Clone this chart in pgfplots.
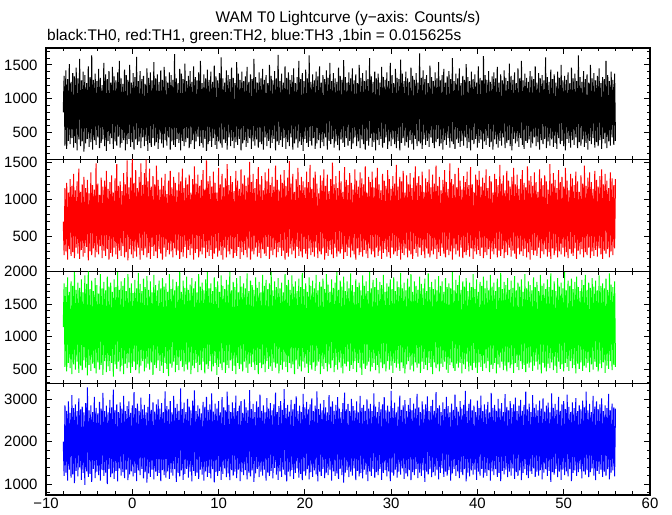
\documentclass[border=0pt]{standalone}
\usepackage{pgfplots}
\pgfplotsset{compat=1.18}
\usepackage{pgfplotstable}
\usepackage{fontspec}
\setmainfont{Liberation Sans}

\pgfplotstableread{
x b r g u
-8.0 800 700 1150 2000
-7.9 1340 250 1820 1190
-7.8 310 1150 540 2860
-7.7 1420 300 1760 1270
-7.6 260 1220 470 2730
-7.5 1290 190 1910 1080
-7.4 380 1090 600 2950
-7.3 1510 330 1690 1340
-7.2 330 1270 520 2680
-7.1 1250 240 1850 1150
-7.0 420 1180 430 3100
-6.9 1380 290 1780 1230
-6.8 280 1340 580 2790
-6.7 1330 210 1990 1020
-6.6 350 1120 500 2880
-6.5 1460 350 1720 1310
-6.4 240 1240 620 2720
-6.3 1300 270 1830 1180
-6.2 400 1410 450 3020
-6.1 1590 200 1750 1390
-6.0 300 1100 560 2760
-5.9 1270 320 1880 1100
-5.8 370 1200 490 2830
-5.7 1400 230 1680 1260
-5.6 220 1300 640 2690
-5.5 1350 280 1940 980
-5.4 340 1150 530 2910
-5.3 1230 360 1810 1300
-5.2 410 1260 410 3280
-5.1 1480 180 2000 1170
-5.0 290 1080 570 2740
-4.9 1320 300 1730 1240
-4.8 360 1360 480 2860
-4.7 1640 250 1860 1050
-4.6 250 1190 590 2700
-4.5 1280 340 1700 1360
-4.4 390 1130 520 3060
-4.3 1370 220 1900 1140
-4.2 320 1480 440 2800
-4.1 1260 290 1790 1290
-4.0 430 1210 610 2670
-3.9 1440 260 1660 1210
-3.8 270 1060 500 2940
-3.7 1310 370 1960 1080
-3.6 350 1290 570 2780
-3.5 1200 210 1740 1330
-3.4 400 1170 420 3150
-3.3 1530 310 1840 1190
-3.2 300 1250 630 2720
-3.1 1360 240 1710 1270
-3.0 230 1380 460 2850
-2.9 1290 330 1920 1000
-2.8 380 1140 550 2690
-2.7 1410 190 1770 1350
-2.6 330 1230 480 2990
-2.5 1240 280 1830 1160
-2.4 420 1320 600 2810
-2.3 1470 230 1690 1250
-2.2 260 1090 390 3230
-2.1 1330 350 1880 1120
-2.0 370 1280 580 2740
-1.9 1270 260 1760 1310
-1.8 310 1470 510 2880
-1.7 1390 200 1990 1060
-1.6 440 1180 620 2700
-1.5 1560 310 1720 1370
-1.4 280 1240 470 2930
-1.3 1300 240 1850 1200
-1.2 350 1110 560 2780
-1.1 1220 370 1780 1280
-1.0 390 1350 430 3080
-0.9 1430 220 1900 1140
-0.8 240 1200 590 2720
-0.7 1350 290 1700 1340
-0.6 330 1520 520 2840
-0.5 1280 180 1960 1090
-0.4 410 1160 610 2950
-0.3 1500 330 1750 1230
-0.2 290 1290 450 2680
-0.1 1240 260 1820 1300
0.0 360 1540 540 2860
0.1 1380 210 1670 1180
0.2 250 1220 620 3170
0.3 1320 300 1870 1260
0.4 400 1390 490 2790
0.5 1620 230 1740 1070
0.6 320 1150 580 2900
0.7 1260 350 1980 1320
0.8 370 1300 440 2730
0.9 1410 190 1810 1210
1.0 270 1480 560 3040
1.1 1290 310 1700 1360
1.2 430 1190 630 2760
1.3 1340 250 1890 1130
1.4 300 1350 470 2870
1.5 1220 340 1760 1280
1.6 380 1530 530 2690
1.7 1450 220 1930 1030
1.8 230 1240 590 2820
1.9 1310 280 1720 1250
2.0 350 1410 500 3120
2.1 1390 200 1850 1170
2.2 290 1170 610 2750
2.3 1270 360 1680 1340
2.4 420 1310 420 2930
2.5 1540 240 1950 1110
2.6 310 1200 570 2710
2.7 1300 300 1790 1290
2.8 360 1450 520 2880
2.9 1360 210 1710 1190
3.0 260 1260 640 3000
3.1 1250 330 1860 1260
3.2 400 1130 480 2780
3.3 1420 270 1740 1070
3.4 340 1290 560 2910
3.5 1280 190 1900 1330
3.6 280 1180 450 2700
3.7 1470 350 1770 1210
3.8 390 1340 600 3190
3.9 1330 230 1820 1150
4.0 310 1070 510 2840
4.1 1240 320 1690 1300
4.2 430 1250 400 2760
4.3 1390 260 1960 1120
4.4 250 1380 590 2960
4.5 1350 300 1730 1270
4.6 370 1160 530 2690
4.7 1280 220 1880 1200
4.8 320 1300 620 3080
4.9 1660 340 1710 1350
5.0 290 1220 460 2800
5.1 1300 250 1840 1050
5.2 410 1120 570 2890
5.3 1230 310 1780 1260
5.4 350 1360 490 2730
5.5 1440 200 1990 1180
5.6 240 1240 630 3260
5.7 1370 290 1690 1320
5.8 380 1410 540 2770
5.9 1290 230 1860 1100
6.0 300 1150 470 2920
6.1 1520 360 1750 1240
6.2 360 1290 580 2700
6.3 1260 210 1920 1360
6.4 420 1200 500 3010
6.5 1340 320 1720 1150
6.6 270 1330 610 2830
6.7 1410 250 1800 1290
6.8 330 1090 430 2740
6.9 1250 340 1900 1060
7.0 390 1270 560 2970
7.1 1480 190 1740 1310
7.2 260 1440 520 3210
7.3 1320 280 1850 1190
7.4 370 1210 600 2720
7.5 1270 330 1680 1270
7.6 440 1330 460 2860
7.7 1390 220 1960 1120
7.8 300 1180 570 2780
7.9 1560 300 1770 1340
8.0 350 1260 490 2670
8.1 1230 260 1830 1220
8.2 280 1390 620 2940
8.3 1360 350 1710 1080
8.4 410 1130 440 2820
8.5 1300 210 1880 1300
8.6 230 1520 580 3060
8.7 1430 290 1990 1170
8.8 330 1240 510 2750
8.9 1280 240 1740 1260
9.0 380 1310 630 2880
9.1 1400 320 1820 1130
9.2 290 1170 470 3140
9.3 1250 200 1700 1350
9.4 420 1370 550 2710
9.5 1490 270 1910 1040
9.6 320 1220 600 2900
9.7 1330 340 1760 1280
9.8 260 1090 420 2780
9.9 1270 230 1850 1190
10.0 370 1420 540 2960
10.1 1380 310 1690 1310
10.2 340 1200 590 2690
10.3 1610 250 1940 1100
10.4 280 1340 490 3050
10.5 1300 190 1780 1240
10.6 400 1160 610 2810
10.7 1240 350 1730 1370
10.8 350 1280 450 2740
10.9 1420 220 1870 1160
11.0 250 1470 570 3180
11.1 1350 300 1800 1250
11.2 430 1190 520 2870
11.3 1290 260 1990 1090
11.4 300 1310 640 2700
11.5 1460 330 1710 1330
11.6 380 1230 480 2930
11.7 1310 210 1840 1200
11.8 270 1110 560 2790
11.9 1230 280 1760 1290
12.0 360 1380 430 3090
12.1 1540 240 1900 1140
12.2 320 1250 600 2720
12.3 1370 360 1680 1340
12.4 410 1140 510 2850
12.5 1280 200 1930 1070
12.6 240 1400 580 2960
12.7 1400 290 1770 1280
12.8 340 1210 470 2680
12.9 1260 250 1820 1210
13.0 390 1320 620 3000
13.1 1330 320 1740 1330
13.2 290 1180 530 2810
13.3 1470 220 1970 1110
13.4 350 1290 450 2740
13.5 1250 340 1700 1270
13.6 420 1500 590 3220
13.7 1360 190 1860 1180
13.8 260 1230 540 2770
13.9 1290 300 1790 1320
14.0 370 1340 610 2890
14.1 1590 260 1720 1050
14.2 310 1150 490 2700
14.3 1320 350 1910 1250
14.4 400 1270 570 2950
14.5 1240 230 1750 1360
14.6 280 1430 430 2820
14.7 1390 280 1840 1160
14.8 360 1200 600 3110
14.9 1300 210 1680 1290
15.0 330 1310 520 2730
15.1 1440 330 1950 1200
15.2 250 1120 580 2860
15.3 1280 270 1780 1340
15.4 430 1360 460 2690
15.5 1350 240 1870 1080
15.6 300 1240 630 3030
15.7 1230 360 1730 1270
15.8 380 1410 510 2780
15.9 1500 200 1820 1190
16.0 270 1190 550 2910
16.1 1340 310 1990 1310
16.2 350 1300 480 2740
16.3 1270 250 1710 1130
16.4 410 1170 610 2880
16.5 1410 330 1850 1380
16.6 240 1450 530 3160
16.7 1300 220 1760 1220
16.8 370 1260 590 2700
16.9 1650 290 1900 1100
17.0 320 1130 440 2840
17.1 1260 350 1740 1300
17.2 390 1330 570 2960
17.3 1370 240 1830 1170
17.4 290 1220 500 2750
17.5 1240 310 1680 1340
17.6 420 1390 620 3240
17.7 1480 190 1960 1210
17.8 260 1180 540 2790
17.9 1310 280 1790 1060
18.0 360 1290 460 2870
18.1 1390 230 1870 1290
18.2 300 1510 600 2710
18.3 1280 340 1720 1180
18.4 430 1210 520 2990
18.5 1350 260 1940 1330
18.6 250 1340 580 2760
18.7 1450 310 1770 1120
18.8 340 1100 430 2890
18.9 1230 210 1850 1260
19.0 400 1270 640 3070
19.1 1320 360 1700 1370
19.2 280 1420 510 2730
19.3 1560 240 1890 1150
19.4 370 1190 550 2850
19.5 1290 300 1760 1240
19.6 320 1300 470 2700
19.7 1380 220 1980 1090
19.8 230 1240 620 3130
19.9 1260 330 1730 1300
20.0 410 1160 530 2810
20.1 1430 270 1820 1200
20.2 350 1370 590 2940
20.3 1300 200 1690 1350
20.4 290 1230 450 2760
20.5 1640 340 1910 1110
20.6 380 1460 570 2880
20.7 1250 250 1780 1280
20.8 310 1140 500 3020
20.9 1360 290 1860 1170
21.0 420 1290 610 2720
21.1 1270 230 1740 1320
21.2 260 1370 480 2850
21.3 1400 350 1950 1230
21.4 340 1210 560 3190
21.5 1330 210 1710 1060
21.6 390 1080 620 2770
21.7 1480 300 1840 1290
21.8 270 1320 430 2900
21.9 1240 260 1770 1190
22.0 360 1250 550 2740
22.1 1350 340 1890 1360
22.2 300 1400 510 2980
22.3 1290 190 1730 1140
22.4 430 1180 600 2810
22.5 1420 280 1960 1270
22.6 250 1330 470 2690
22.7 1310 240 1800 1210
22.8 380 1110 580 3100
22.9 1530 320 1690 1340
23.0 330 1270 520 2830
23.1 1260 260 1880 1080
23.2 410 1490 640 2950
23.3 1380 210 1750 1300
23.4 280 1200 460 2730
23.5 1300 350 1830 1190
23.6 370 1310 570 2870
23.7 1250 230 1990 1250
23.8 320 1150 500 3050
23.9 1460 300 1720 1120
24.0 240 1380 610 2780
24.1 1340 270 1860 1360
24.2 400 1240 530 2700
24.3 1280 330 1770 1210
24.4 350 1100 440 2910
24.5 1570 200 1920 1030
24.6 290 1430 590 3160
24.7 1320 290 1700 1270
24.8 420 1260 550 2760
24.9 1240 240 1850 1330
25.0 310 1190 620 2890
25.1 1390 350 1740 1160
25.2 380 1350 480 2720
25.3 1300 220 1970 1290
25.4 260 1220 570 3010
25.5 1450 310 1790 1200
25.6 340 1130 510 2840
25.7 1270 260 1690 1370
25.8 430 1400 630 2740
25.9 1360 190 1880 1090
26.0 300 1250 460 2950
26.1 1230 340 1760 1310
26.2 370 1170 600 2690
26.3 1500 250 1830 1180
26.4 270 1360 530 3080
26.5 1310 290 1710 1260
26.6 400 1280 420 2800
26.7 1380 230 1940 1130
26.8 330 1200 590 2870
26.9 1260 320 1780 1340
27.0 250 1440 510 2730
27.1 1420 270 1850 1220
27.2 380 1090 560 3000
27.3 1290 210 1700 1070
27.4 310 1300 620 2780
27.5 1600 340 1990 1300
27.6 420 1230 470 2890
27.7 1330 260 1740 1190
27.8 290 1370 540 2720
27.9 1250 300 1870 1350
28.0 360 1160 600 3140
28.1 1400 220 1760 1150
28.2 240 1290 490 2830
28.3 1300 350 1900 1280
28.4 390 1420 570 2700
28.5 1370 240 1720 1210
28.6 320 1200 440 2940
28.7 1240 310 1840 1360
28.8 410 1120 610 2760
28.9 1470 200 1790 1100
29.0 280 1340 520 2880
29.1 1320 280 1950 1260
29.2 350 1250 580 3050
29.3 1280 330 1690 1330
29.4 430 1180 470 2740
29.5 1390 230 1820 1180
29.6 260 1390 630 2850
29.7 1260 290 1770 1300
29.8 370 1270 500 2710
29.9 1530 210 1880 1070
30.0 300 1140 560 3200
30.1 1350 350 1730 1270
30.2 400 1310 450 2790
30.3 1230 260 1910 1200
30.4 330 1210 600 2920
30.5 1440 300 1700 1340
30.6 270 1460 530 2690
30.7 1310 240 1850 1150
30.8 380 1170 590 2830
30.9 1290 320 1760 1290
31.0 240 1300 480 3090
31.1 1580 190 1980 1220
31.2 350 1240 610 2750
31.3 1370 280 1740 1370
31.4 420 1380 520 2860
31.5 1260 250 1830 1120
31.6 310 1090 440 2980
31.7 1400 340 1710 1250
31.8 360 1320 580 2720
31.9 1300 220 1890 1180
32.0 280 1200 630 2870
32.1 1250 310 1770 1330
32.2 390 1350 500 3030
32.3 1460 260 1960 1090
32.4 330 1150 560 2740
32.5 1340 200 1690 1280
32.6 250 1290 470 2900
32.7 1280 330 1850 1210
32.8 410 1440 610 2780
32.9 1380 280 1780 1360
33.0 300 1220 530 3130
33.1 1240 230 1720 1140
33.2 370 1310 590 2810
33.3 1670 350 1920 1270
33.4 340 1190 450 2700
33.5 1310 250 1810 1190
33.6 260 1370 620 2950
33.7 1420 300 1740 1320
33.8 400 1100 510 2760
33.9 1290 210 1890 1050
34.0 320 1280 570 2880
34.1 1350 340 1700 1290
34.2 380 1230 490 3070
34.3 1230 270 1970 1230
34.4 290 1400 600 2720
34.5 1490 220 1760 1350
34.6 430 1160 540 2840
34.7 1320 310 1840 1160
34.8 350 1330 430 2990
34.9 1260 260 1730 1280
35.0 270 1210 610 2730
35.1 1390 330 1880 1200
35.2 360 1450 520 3170
35.3 1300 200 1710 1340
35.4 410 1180 580 2790
35.5 1540 290 1930 1110
35.6 300 1300 470 2860
35.7 1270 240 1780 1260
35.8 340 1120 590 2700
35.9 1350 350 1850 1370
36.0 250 1260 540 2930
36.1 1440 270 1690 1170
36.2 390 1390 620 2770
36.3 1240 220 1900 1290
36.4 320 1230 500 3060
36.5 1330 320 1760 1200
36.6 420 1140 450 2840
36.7 1410 250 1820 1330
36.8 280 1480 570 2690
36.9 1290 300 1740 1080
37.0 370 1270 610 2900
37.1 1600 190 1990 1250
37.2 330 1200 520 2750
37.3 1260 340 1710 1360
37.4 260 1340 480 3110
37.5 1370 260 1870 1190
37.6 400 1160 590 2820
37.7 1300 310 1790 1300
37.8 350 1420 530 2710
37.9 1450 230 1940 1140
38.0 290 1250 600 2960
38.1 1230 350 1720 1280
38.2 380 1130 440 2780
38.3 1340 210 1850 1210
38.4 310 1310 580 2870
38.5 1280 290 1770 1350
38.6 430 1230 510 3200
38.7 1510 250 1900 1060
38.8 270 1370 620 2730
38.9 1320 320 1700 1270
39.0 360 1190 470 2890
39.1 1260 230 1830 1180
39.2 240 1430 560 3000
39.3 1400 340 1760 1320
39.4 390 1200 490 2740
39.5 1290 200 1960 1220
39.6 330 1100 600 2850
39.7 1360 300 1730 1340
39.8 410 1330 530 2700
39.9 1240 260 1880 1100
40.0 280 1260 450 2970
40.1 1480 320 1690 1290
40.2 350 1380 610 2790
40.3 1310 240 1840 1200
40.4 400 1170 540 3090
40.5 1270 350 1780 1360
40.6 260 1290 480 2720
40.7 1630 210 1920 1150
40.8 370 1220 590 2880
40.9 1350 290 1740 1270
41.0 320 1400 520 2760
41.1 1280 250 1860 1190
41.2 420 1150 630 2940
41.3 1410 330 1710 1330
41.4 290 1310 460 2690
41.5 1250 200 1950 1080
41.6 360 1240 570 3150
41.7 1330 300 1770 1300
41.8 250 1090 510 2800
41.9 1390 260 1830 1210
42.0 400 1340 600 2870
42.1 1300 340 1700 1350
42.2 330 1270 440 2730
42.3 1470 220 1890 1170
42.4 280 1190 580 3010
42.5 1240 310 1760 1260
42.6 380 1460 530 2780
42.7 1360 240 1980 1070
42.8 310 1210 620 2910
42.9 1270 330 1730 1310
43.0 430 1320 490 2700
43.1 1420 210 1840 1230
43.2 270 1120 560 3120
43.3 1310 290 1790 1340
43.4 350 1380 470 2820
43.5 1260 250 1900 1160
43.6 390 1250 610 2740
43.7 1520 350 1720 1290
43.8 300 1170 520 2960
43.9 1340 230 1860 1200
44.0 240 1300 580 2790
44.1 1280 310 1750 1370
44.2 410 1420 450 2880
44.3 1390 270 1930 1120
44.4 340 1200 600 3040
44.5 1230 200 1710 1280
44.6 370 1330 540 2720
44.7 1450 340 1830 1190
44.8 290 1140 490 2850
44.9 1300 260 1770 1320
45.0 420 1270 630 2990
45.1 1560 300 1880 1090
45.2 320 1390 510 2730
45.3 1270 240 1690 1260
45.4 260 1220 570 2870
45.5 1370 330 1960 1350
45.6 380 1160 460 3180
45.7 1310 220 1740 1210
45.8 350 1440 590 2760
45.9 1250 290 1850 1140
46.0 400 1250 530 2900
46.1 1410 190 1790 1300
46.2 280 1310 610 2700
46.3 1330 320 1710 1240
46.4 340 1180 480 3100
46.5 1290 250 1910 1370
46.6 430 1360 560 2800
46.7 1480 310 1760 1170
46.8 300 1230 620 2880
46.9 1240 240 1840 1290
47.0 360 1100 500 2740
47.1 1380 350 1700 1200
47.2 250 1400 580 2970
47.3 1300 210 1950 1330
47.4 390 1280 440 2780
47.5 1350 300 1780 1110
47.6 330 1190 600 3020
47.7 1270 260 1820 1270
47.8 410 1320 530 2710
47.9 1610 330 1730 1350
48.0 270 1240 470 2850
48.1 1320 230 1880 1190
48.2 370 1130 590 2920
48.3 1250 290 1760 1310
48.4 310 1470 520 2690
48.5 1430 200 1970 1050
48.6 400 1210 610 3140
48.7 1290 340 1720 1280
48.8 290 1350 490 2800
48.9 1360 250 1850 1220
49.0 350 1260 560 2890
49.1 1240 310 1700 1360
49.2 260 1150 450 2750
49.3 1400 220 1900 1160
49.4 420 1390 620 3060
49.5 1310 300 1770 1290
49.6 330 1230 510 2730
49.7 1500 260 1830 1100
49.8 380 1300 580 2880
49.9 1270 350 1740 1340
50.0 300 1170 470 2960
50.1 1340 230 1990 1210
50.2 240 1420 600 2770
50.3 1280 290 1710 1300
50.4 410 1250 540 3110
50.5 1390 210 1860 1180
50.6 350 1120 480 2820
50.7 1230 330 1780 1350
50.8 280 1340 630 2700
50.9 1460 270 1890 1070
51.0 390 1280 520 2930
51.1 1300 240 1730 1260
51.2 320 1190 570 2790
51.3 1370 340 1840 1320
51.4 430 1370 440 3030
51.5 1260 200 1920 1190
51.6 270 1240 590 2720
51.7 1640 310 1760 1280
51.8 360 1100 510 2860
51.9 1320 260 1700 1350
52.0 310 1320 610 2760
52.1 1250 330 1870 1130
52.2 400 1210 480 2970
52.3 1410 220 1790 1300
52.4 290 1450 560 2810
52.5 1290 290 1950 1220
52.6 350 1180 530 3180
52.7 1360 250 1720 1330
52.8 250 1290 600 2740
52.9 1240 350 1830 1160
53.0 380 1360 460 2890
53.1 1500 210 1750 1280
53.2 330 1230 580 2700
53.3 1300 300 1900 1370
53.4 420 1140 500 3080
53.5 1380 240 1770 1200
53.6 280 1380 620 2830
53.7 1270 320 1860 1090
53.8 360 1260 540 2950
53.9 1340 230 1710 1310
54.0 300 1170 470 2770
54.1 1450 340 1940 1240
54.2 390 1310 590 2880
54.3 1230 260 1780 1340
54.4 260 1400 520 3020
54.5 1320 200 1820 1170
54.6 410 1200 610 2720
54.7 1290 310 1740 1290
54.8 340 1340 450 2860
54.9 1560 270 1890 1200
55.0 270 1250 560 2790
55.1 1350 330 1720 1350
55.2 370 1150 510 3130
55.3 1260 220 1970 1110
55.4 310 1360 630 2740
55.5 1400 300 1800 1270
55.6 430 1280 490 2900
55.7 1280 250 1760 1320
55.8 320 1190 570 2810
55.9 1370 340 1850 1180
56.0 380 1270 540 2780
}\lc

\pgfplotsset{
  panel/.style={
    width=604bp, height=111.75bp, scale only axis,
    xmin=-10, xmax=60,
    xtick={-10,0,...,60}, minor xtick={-8,-6,...,58},
    xticklabels={},
    xtick pos=both, ytick pos=both, tick align=inside,
    major tick length=6bp, minor tick length=3.5bp,
    axis line style={line width=1.1pt},
    tick style={black, line width=0.9pt},
    tick label style={font=\fontsize{15}{15}\selectfont},
    yticklabel style={xshift=-5bp},
    clip=true,
  },
  curve/.style={sharp plot, line width=1.0bp, line join=bevel, mark=none},
}

\begin{document}
\begin{tikzpicture}
\useasboundingbox (-46bp,-20bp) rectangle (626bp,495bp);

\begin{axis}[panel, at={(0bp,335.25bp)}, anchor=south west,
  ymin=100, ymax=1750, ytick={500,1000,1500}, yticklabels={500,1000,1500},
  minor ytick={100,200,...,1700}]
\addplot[curve, black] table[x=x, y=b] {\lc};
\end{axis}

\begin{axis}[panel, at={(0bp,223.5bp)}, anchor=south west,
  ymin=30, ymax=1530, ytick={500,1000,1500}, yticklabels={500,1000,1500},
  minor ytick={100,200,...,1500}]
\addplot[curve, red] table[x=x, y=r] {\lc};
\end{axis}

\begin{axis}[panel, at={(0bp,111.75bp)}, anchor=south west,
  ymin=290, ymax=2000, ytick={500,1000,1500,2000}, yticklabels={500,1000,1500,2000},
  minor ytick={300,400,...,2000}]
\addplot[curve, green] table[x=x, y=g] {\lc};
\end{axis}

\begin{axis}[panel, at={(0bp,0bp)}, anchor=south west,
  ymin=740, ymax=3380, ytick={1000,2000,3000}, yticklabels={1000,2000,3000},
  minor ytick={800,1000,...,3200},
  xticklabels={−10,0,10,20,30,40,50,60}, xtick pos=both,
  xticklabel pos=lower]
\addplot[curve, blue] table[x=x, y=u] {\lc};
\end{axis}

\node[anchor=base, font=\fontsize{15.5}{15.5}\selectfont] at (302bp,472bp) {WAM T0 Lightcurve (y−axis: Counts/s)};
\node[anchor=base west, inner sep=0pt, font=\fontsize{15.5}{15.5}\selectfont] at (1bp,454bp) {black:TH0, red:TH1, green:TH2, blue:TH3 ,1bin = 0.015625s};
\end{tikzpicture}
\end{document}
